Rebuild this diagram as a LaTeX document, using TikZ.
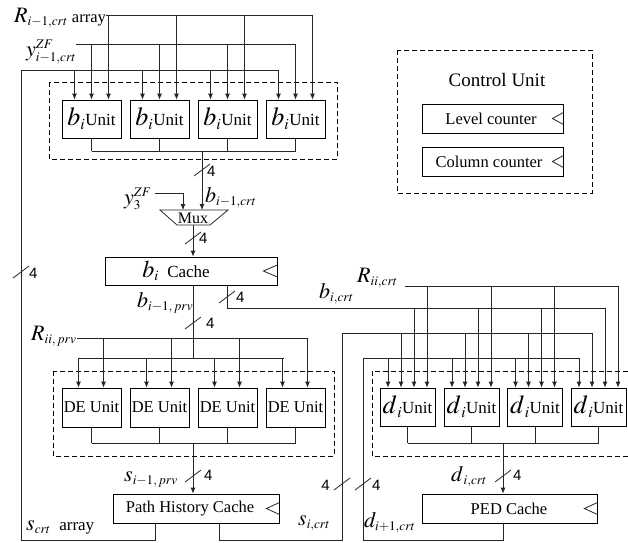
\documentclass[tikz,border=0pt]{standalone}
\usepackage{mathptmx}
\usepackage{fontspec}
\setmainfont{Liberation Serif}
\newfontfamily\sansf{Liberation Sans}
\usetikzlibrary{arrows.meta,calc}
\makeatletter
\def\defaultscriptratio{.6}
\def\defaultscriptscriptratio{.45}
\makeatother
\begin{document}
\begin{tikzpicture}[x=1pt,y=-1pt,
  wire/.style={line width=0.8pt,draw=black!85},
  arr/.style={wire,-{Latex[length=6pt,width=5pt]}},
  unit/.style={draw,line width=0.8pt,minimum width=59pt,minimum height=38pt,inner sep=0pt},
  dunit/.style={draw,line width=0.8pt,minimum width=55pt,minimum height=38pt,inner sep=0pt},
  cachebox/.style={draw,line width=0.8pt,inner sep=0pt},
  grp/.style={line width=0.8pt,dash pattern=on 5pt off 3pt,draw=black},
  lab/.style={inner sep=0pt,font=\fontsize{22}{24}\selectfont},
  num/.style={inner sep=0pt,font=\sansf\fontsize{15}{17}\selectfont},
  txt/.style={inner sep=0pt,font=\fontsize{16.5}{19}\selectfont},
]
\useasboundingbox (0,0) rectangle (628,542);

% ---------- dashed groups ----------
\draw[grp] (49,82) rectangle (337,159);
\draw[grp] (53,371) rectangle (334,456);
\draw[grp] (628,371) -- (372,371) -- (372,456) -- (628,456);
\draw[grp] (397,50) rectangle (592,193);

% ---------- control unit ----------
\node[inner sep=0pt,font=\fontsize{19}{21}\selectfont] (cu) at (497,80) {Control Unit};
\node[cachebox,minimum width=141pt,minimum height=29pt] (lvl) at (492.5,118.5) {};
\node[txt] (lvlt) at (491,118.5) {Level counter};
\node[cachebox,minimum width=141pt,minimum height=29pt] (col) at (492.5,161.5) {};
\node[txt] (colt) at (489,161.5) {Column counter};
\draw[wire] ($(lvl.east)+(0,-6)$) -- ++(-11,6) -- ++(11,6);
\draw[wire] ($(col.east)+(0,-6)$) -- ++(-11,6) -- ++(11,6);

% ---------- b units ----------
\foreach \i/\x in {1/91.5,2/159.5,3/227.5,4/295.5}
  \node[unit] (bu\i) at (\x,119) {\fontsize{26}{27}\selectfont$b_i$\fontsize{17}{19}\selectfont Unit};

\node[lab,anchor=base west] (rlab) at (14,22) {$R_{i-1,crt}${\fontsize{16.5}{19}\selectfont\ array}};
\coordinate (Rs) at (rlab.east |- 0,15);
\draw[wire] (Rs) -- (312.5,15);
\foreach \i in {1,...,4}
  \draw[arr] ($(bu\i.north)+(17,-85)$) -- ($(bu\i.north)+(17,0)$);

\node[lab,anchor=base west] (ylab) at (26,56) {$y^{ZF}_{i-1,crt}$};
\coordinate (Ys) at (ylab.east |- 0,44);
\draw[wire] (Ys) -- (295.5,44);
\foreach \i in {1,...,4}
  \draw[arr] ($(bu\i.north)+(0,-56)$) -- (bu\i.north);

% ---------- b unit outputs, mux ----------
\foreach \i in {1,...,4}
  \draw[wire] (bu\i.south) -- ++(0,13);
\draw[wire] (91.5,151) -- (295.5,151);
\draw[wire] (160,210) -- (228,210) -- (210,225) -- (177,225) -- cycle;
\node[inner sep=0pt,font=\fontsize{16}{18}\selectfont] (mux) at (193,218) {Mux};
\coordinate (muxin1) at (183,210);
\coordinate (muxin2) at (202,210);
\coordinate (muxout) at (193,225);
\draw[arr] (202,151) -- (muxin2);
\draw[wire] (202,170) ++(-8,6) -- ++(16,-12);
\node[num,anchor=west] (n1) at (207,171) {4};
\node[lab,anchor=base west] (bcrt) at (205,202) {$b_{i-1,crt}$};
\node[lab,anchor=base west] (y3) at (124,204) {$y_3^{ZF}$};
\draw[arr] (155,193) -| (muxin1);

% ---------- b cache ----------
\node[cachebox,minimum width=172pt,minimum height=28pt] (bc) at (191,271) {};
\node[inner sep=0pt] (bct) at (176,271) {\fontsize{24}{26}\selectfont$b_i$\fontsize{17}{19}\selectfont\ \ Cache};
\draw[wire] ($(bc.east)+(0,-6)$) -- ++(-14,6) -- ++(14,6);
\draw[arr] (muxout) -- (bc.north -| muxout);
\draw[wire] (193,238) ++(-8,6) -- ++(16,-12);
\node[num,anchor=west] (n2) at (199,238) {4};

% ---------- DE units ----------
\foreach \i/\x in {1/91.5,2/159.5,3/227.5,4/295.5}
  \node[unit,minimum height=39pt] (de\i) at (\x,407.5) {\fontsize{16.5}{19}\selectfont DE Unit};

\draw[wire] (bc.south -| muxout) -- (193,358);
\draw[wire] (193,323) ++(-8,6) -- ++(16,-12);
\node[num,anchor=west] (n3) at (206,323) {4};
\node[lab,anchor=base west] (bprv) at (137,307) {$b_{i-1,\,prv}$};
\draw[wire] (78.5,358) -- (283.5,358);
\foreach \i in {1,...,4}
  \draw[arr] ($(de\i.north)+(-13,-30)$) -- ($(de\i.north)+(-13,0)$);

\node[lab,anchor=base west] (rprv) at (31,340) {$R_{ii,\,prv}$};
\draw[wire] (rprv.east |- 0,338) -- (307.5,338);
\foreach \i in {1,...,4}
  \draw[arr] ($(de\i.north)+(12,-50)$) -- ($(de\i.north)+(12,0)$);

\foreach \i in {1,...,4}
  \draw[wire] (de\i.south) -- ++(0,15.5);
\draw[wire] (91.5,443) -- (295.5,443);

% ---------- path history cache ----------
\node[cachebox,minimum width=166pt,minimum height=29pt] (phc) at (196,508.5) {};
\node[txt] (phct) at (190,508.5) {Path History Cache};
\draw[wire] ($(phc.east)+(0,-6)$) -- ++(-13,6) -- ++(13,6);
\draw[arr] (193,443) -- (phc.north -| muxout);
\draw[wire] (193,476) ++(-8,6) -- ++(16,-12);
\node[num,anchor=west] (n4) at (204,475) {4};
\node[lab,anchor=base west] (sprv) at (124,481) {$s_{i-1,\,prv}$};

% s_crt array loop
\draw[wire] ($(phc.south)+(-41,0)$) -- ++(0,17) -| (21,70) -- (278.5,70);
\foreach \i in {1,...,4}
  \draw[arr] ($(bu\i.north)+(-17,-30)$) -- ($(bu\i.north)+(-17,0)$);
\draw[wire] (21,272) ++(-8,6) -- ++(16,-12);
\node[num,anchor=west] (n5) at (29,273) {4};
\node[inner sep=0pt,anchor=base west] (scrt) at (26,530) {\fontsize{22}{24}\selectfont$s_{crt}$\fontsize{17}{19}\selectfont\ \ array};

% ---------- d units ----------
\foreach \i/\x in {1/407.5,2/471.5,3/535,4/598.5}
  \node[dunit] (dd\i) at (\x,407) {\fontsize{26}{27}\selectfont$d_{\,i}$\fontsize{17}{19}\selectfont Unit};

% b_{i,crt}
\draw[wire] (bc.south -| 227,0) -- (227,308) -- (605,308);
\draw[wire] (227,297) ++(-8,6) -- ++(16,-12);
\node[num,anchor=west] (n6) at (236,297) {4};
\node[lab,anchor=base west] (bicrt) at (319,298) {$b_{i,crt}$};
\foreach \i in {1,...,4}
  \draw[arr] ($(dd\i.north)+(6.5,-80)$) -- ($(dd\i.north)+(6.5,0)$);

% R_{ii,crt}
\node[lab,anchor=base west] (rcrt) at (357,282) {$R_{ii,crt}$};
\draw[wire] (405,286) -- (618,286);
\foreach \i in {1,...,4}
  \draw[arr] ($(dd\i.north)+(19.5,-102)$) -- ($(dd\i.north)+(19.5,0)$);

% s_{i,crt}
\draw[wire] ($(phc.south)+(23,0)$) -- ++(0,17) -| (342,333) -- (592,333);
\foreach \i in {1,...,4}
  \draw[arr] ($(dd\i.north)+(-6.5,-55)$) -- ($(dd\i.north)+(-6.5,0)$);
\draw[wire] (342,484) ++(-8,6) -- ++(16,-12);
\node[num,anchor=east] (n7) at (330,485) {4};
\node[lab,anchor=base west] (sicrt) at (298,525) {$s_{i,crt}$};

% d outputs, PED cache
\foreach \i in {1,...,4}
  \draw[wire] (dd\i.south) -- ++(0,17);
\draw[wire] (407.5,443) -- (598.5,443);
\node[cachebox,minimum width=175pt,minimum height=29pt] (ped) at (509.5,508.5) {};
\node[txt] (pedt) at (509,508.5) {PED Cache};
\draw[wire] ($(ped.east)+(0,-6)$) -- ++(-13,6) -- ++(13,6);
\draw[arr] (503,443) -- (ped.north -| 503,0);
\draw[wire] (503,476) ++(-8,6) -- ++(16,-12);
\node[num,anchor=west] (n8) at (513,475) {4};
\node[lab,anchor=base west] (dicrt) at (451,481) {$d_{\,i,crt}$};

% d_{i+1,crt}
\draw[wire] (ped.south -| 503,0) -- (503,540) -| (363,358) -- (579,358);
\foreach \i in {1,...,4}
  \draw[arr] ($(dd\i.north)+(-19.5,-30)$) -- ($(dd\i.north)+(-19.5,0)$);
\draw[wire] (363,484) ++(-8,6) -- ++(16,-12);
\node[num,anchor=west] (n9) at (372,485) {4};
\node[lab,anchor=base west] (di1) at (364,527) {$d_{i+1,crt}$};
\end{tikzpicture}
\end{document}
